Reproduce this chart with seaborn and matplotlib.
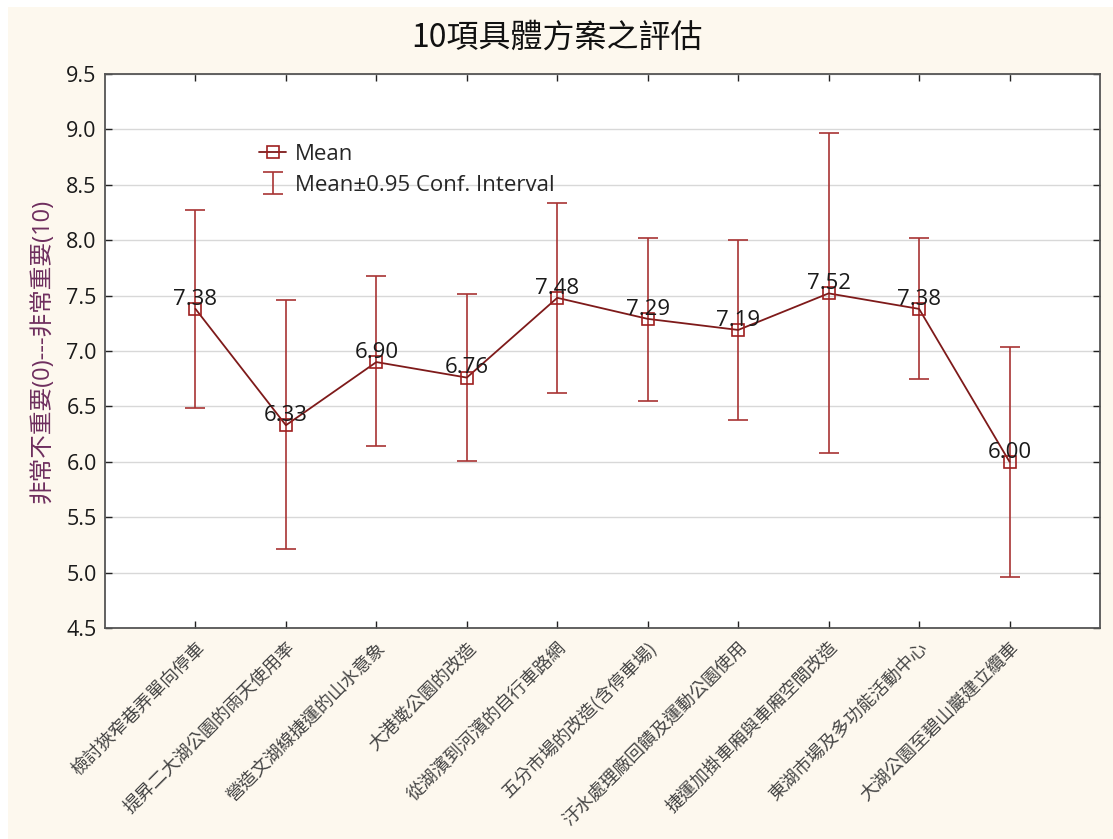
import matplotlib
matplotlib.use("Agg")
import matplotlib.pyplot as plt
import seaborn as sns
import numpy as np
import pandas as pd
from matplotlib.patches import Rectangle
from matplotlib.lines import Line2D

categories = ["檢討狹窄巷弄單向停車", "提昇二大湖公園的雨天使用率", "營造文湖線捷運的山水意象",
              "大港墘公園的改造", "從湖濱到河濱的自行車路網", "五分市場的改造(含停車場)",
              "汙水處理廠回饋及運動公園使用", "捷運加掛車廂與車廂空間改造",
              "東湖市場及多功能活動中心", "大湖公園至碧山巖建立纜車"]
means = [7.38, 6.33, 6.90, 6.76, 7.48, 7.29, 7.19, 7.52, 7.38, 6.00]
ci_low = [6.49, 5.21, 6.14, 6.01, 6.62, 6.55, 6.38, 6.08, 6.75, 4.96]
ci_high = [8.27, 7.46, 7.68, 7.51, 8.34, 8.02, 8.00, 8.97, 8.02, 7.04]
yticks = [4.5, 5.0, 5.5, 6.0, 6.5, 7.0, 7.5, 8.0, 8.5, 9.0, 9.5]
title = "10項具體方案之評估"
ylabel = "非常不重要(0)---非常重要(10)"

sns.set_theme(style="white")
plt.rcParams['font.family'] = ['Open Sans', 'Noto Sans CJK TC', 'DejaVu Sans']

CREAM = "#fdf8ee"
fig = plt.figure(figsize=(11.13, 8.39), dpi=100, facecolor=CREAM)
fig.add_artist(Rectangle((0, 1 - 7 / 839), 1, 7 / 839, transform=fig.transFigure,
                         facecolor="white", edgecolor="none", zorder=0))
fig.add_artist(Rectangle((0, 0), 8 / 1113, 1, transform=fig.transFigure,
                         facecolor="white", edgecolor="none", zorder=0))
ax = fig.add_axes([105 / 1113, 1 - 628 / 839, (1100 - 105) / 1113, (628 - 74) / 839])
ax.set_facecolor("white")

df = pd.DataFrame({"idx": np.arange(len(categories)), "mean": means,
                   "lo": ci_low, "hi": ci_high})

LINE = "#7e1a1a"
MARK = "#9e1f1f"
ERR = "#a83434"

yerr = np.vstack([df["mean"] - df["lo"], df["hi"] - df["mean"]])
eb = ax.errorbar(df["idx"], df["mean"], yerr=yerr, fmt="none", ecolor=ERR,
                 elinewidth=1.2, capsize=7, capthick=1.2, zorder=2)

sns.lineplot(data=df, x="idx", y="mean", ax=ax, color=LINE, linewidth=1.3,
             marker="s", markersize=8, markerfacecolor="none", markeredgecolor=MARK,
             markeredgewidth=1.2, zorder=3)

for i, m in enumerate(means):
    ax.annotate(f"{m:.2f}", (i, m), xytext=(0, 3), textcoords="offset points",
                ha="center", va="baseline", fontsize=16, color="#1a1a1a", zorder=4)

ax.set_xlim(-1, 10)
ax.set_ylim(4.5, 9.5)
ax.set_yticks(yticks)
ax.set_yticklabels([f"{v:.1f}" for v in yticks], fontsize=15.5, color="#1a1a1a")
ax.set_xticks(df["idx"])
ax.set_xticklabels(categories, rotation=45, ha="right", rotation_mode="anchor",
                   fontsize=13, color="#444444", family=['Noto Sans CJK TC'])
ax.tick_params(axis="both", which="both", direction="in", length=5, width=1,
               top=True, right=True, bottom=True, left=True, color="#222222", pad=6)
ax.tick_params(axis="x", pad=8)
ax.yaxis.grid(True, color="#d8d8d8", linewidth=1)
ax.xaxis.grid(False)
ax.set_axisbelow(True)
for s in ax.spines.values():
    s.set_color("#555555")
    s.set_linewidth(1.3)
    s.set_visible(True)

ax.set_xlabel("")
ax.set_ylabel(ylabel, fontsize=17, color="#6e2e5e", labelpad=8)

mean_handle = Line2D([], [], color=LINE, linewidth=1.3, marker="s", markersize=8,
                     markerfacecolor="none", markeredgecolor=MARK, markeredgewidth=1.2)
leg = ax.legend([mean_handle, eb], ["Mean", "Mean±0.95 Conf. Interval"],
                loc="upper left", bbox_to_anchor=(0.135, 0.91), frameon=False,
                fontsize=16, handlelength=1.2, handletextpad=0.4, labelspacing=0.45)

fig.suptitle(title, fontsize=23, y=1 - 38 / 839, va="center", color="#111111",
             family=['Noto Sans CJK TC'])

fig.savefig("out.png", dpi=100, facecolor=CREAM)
